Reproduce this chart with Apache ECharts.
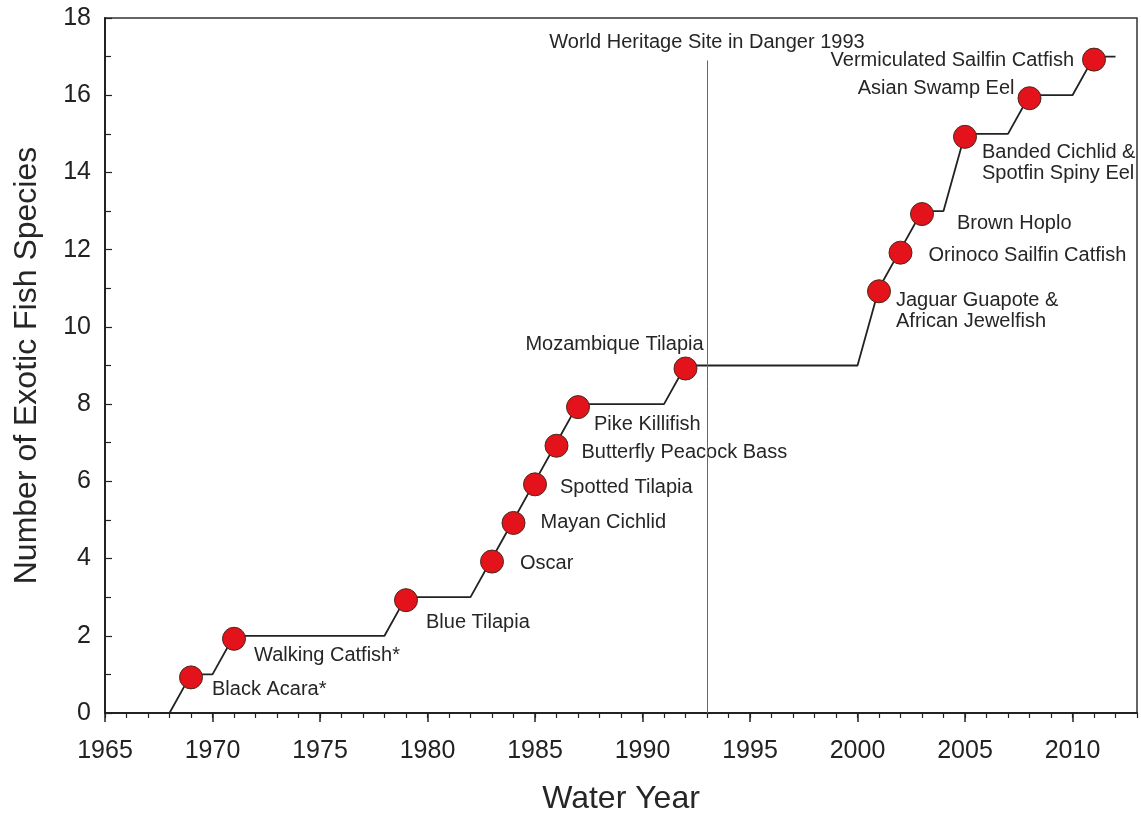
<!DOCTYPE html>
<html>
<head>
<meta charset="utf-8">
<title>Exotic Fish Species by Water Year</title>
<script src="https://cdn.jsdelivr.net/npm/echarts@6/dist/echarts.min.js"></script>
<style>
  html, body { margin: 0; padding: 0; background: #ffffff; }
  #chart { width: 1141px; height: 820px; }
</style>
</head>
<body>
<div id="chart"></div>
<script>
// Species and the water year each was first recorded
const speciesNames = [
  'Black Acara*', 'Walking Catfish*', 'Blue Tilapia', 'Oscar', 'Mayan Cichlid',
  'Spotted Tilapia', 'Butterfly Peacock Bass', 'Pike Killifish', 'Mozambique Tilapia',
  'Jaguar Guapote &\nAfrican Jewelfish', 'Orinoco Sailfin Catfish', 'Brown Hoplo',
  'Banded Cichlid &\nSpotfin Spiny Eel', 'Asian Swamp Eel', 'Vermiculated Sailfin Catfish'
];
const firstYears   = [1969, 1971, 1979, 1983, 1984, 1985, 1986, 1987, 1992, 2001, 2002, 2003, 2005, 2008, 2011];
const speciesCount = [1, 2, 3, 4, 5, 6, 7, 8, 9, 11, 12, 13, 15, 16, 17];

// Cumulative count curve
const stepYears  = [1968, 1969, 1970, 1971, 1978, 1979, 1982, 1983, 1984, 1985, 1986, 1987, 1991, 1992, 2000, 2001, 2002, 2003, 2004, 2005, 2007, 2008, 2010, 2011, 2012];
const stepCounts = [0, 1, 1, 2, 2, 3, 3, 4, 5, 6, 7, 8, 8, 9, 9, 11, 12, 13, 13, 15, 15, 16, 16, 17, 17];

// Axis ticks
const xTickYears = [1965, 1970, 1975, 1980, 1985, 1990, 1995, 2000, 2005, 2010];
const yTickStep = 2;

// Designation marker
const dangerYear = 1993;
const dangerLineTop = 16.9;
const dangerLabel = 'World Heritage Site in Danger 1993';

// Label placement per species: [align, dx, dy] from the marker centre
const labelPlacement = [
  ['left', 21, 12], ['left', 20, 17], ['left', 20, 22], ['left', 28, 2], ['left', 27, 0],
  ['left', 25, 3], ['left', 25, 7], ['left', 16, 17], ['center', -71, -24],
  ['left', 17, 20], ['left', 28, 3], ['left', 35, 9], ['left', 17, 26],
  ['right', -15, -10], ['right', -20, 1]
];

const FONT = "'Liberation Sans', Arial, Helvetica, sans-serif";
const TEXT = '#262626';

const stepData = stepYears.map((y, i) => [y, stepCounts[i]]);
const markerData = firstYears.map((y, i) => {
  const p = labelPlacement[i];
  return {
    name: speciesNames[i],
    value: [y, speciesCount[i]],
    label: { align: p[0], offset: [p[1], p[2]] }
  };
});

const chart = echarts.init(document.getElementById('chart'), null, { renderer: 'canvas' });
chart.setOption({
  backgroundColor: '#ffffff',
  animation: false,
  textStyle: { fontFamily: FONT },
  grid: {
    left: 105, right: 4, top: 18, bottom: 106,
    show: true, borderColor: '#333', borderWidth: 1.5, backgroundColor: 'transparent'
  },
  xAxis: [
    {
      type: 'value', min: 1965, max: 2013,
      name: 'Water Year', nameLocation: 'middle', nameGap: 70,
      nameTextStyle: { fontSize: 32, color: TEXT, fontFamily: FONT },
      axisLine: { show: true, onZero: false, lineStyle: { color: '#222', width: 2 } },
      axisTick: { show: true, length: 9, customValues: xTickYears, lineStyle: { color: '#222', width: 1.5 } },
      axisLabel: {
        show: true, customValues: xTickYears, margin: 26, fontSize: 25, color: '#222', fontFamily: FONT,
        formatter: v => (v % 5 === 0 ? String(v) : '')
      },
      splitLine: { show: false }
    },
    {
      // yearly minor ticks
      type: 'value', min: 1965, max: 2013, interval: 1, position: 'bottom',
      axisLine: { show: false },
      axisTick: { show: true, length: 5, lineStyle: { color: '#222', width: 1.2 } },
      axisLabel: { show: false },
      splitLine: { show: false }
    }
  ],
  yAxis: {
    type: 'value', min: 0, max: 18, interval: yTickStep,
    name: 'Number of Exotic Fish Species', nameLocation: 'middle', nameGap: 62,
    nameTextStyle: { fontSize: 32, color: TEXT, fontFamily: FONT },
    axisLine: { show: true, lineStyle: { color: '#222', width: 2 } },
    axisTick: { show: true, inside: true, length: 7, lineStyle: { color: '#222', width: 1.2 } },
    minorTick: { show: true, splitNumber: 2, length: 6, lineStyle: { color: '#222', width: 1.2 } },
    axisLabel: { margin: 14, fontSize: 25, color: '#222', fontFamily: FONT },
    splitLine: { show: false }
  },
  series: [
    {
      name: 'Cumulative species',
      type: 'line',
      xAxisIndex: 0,
      data: stepData,
      showSymbol: false,
      lineStyle: { color: '#222', width: 1.8 },
      z: 2,
      markLine: {
        silent: true,
        symbol: 'none',
        animation: false,
        lineStyle: { color: '#666', width: 1, type: 'solid' },
        label: {
          show: true, position: 'end', distance: 8, formatter: dangerLabel,
          fontSize: 20, color: TEXT, fontFamily: FONT
        },
        data: [[{ coord: [dangerYear, 0] }, { coord: [dangerYear, dangerLineTop] }]]
      }
    },
    {
      name: 'First record',
      type: 'scatter',
      xAxisIndex: 0,
      data: markerData,
      symbol: 'circle',
      symbolSize: 23,
      symbolOffset: [0, 3],
      itemStyle: { color: '#e3121b', borderColor: '#4a2a1c', borderWidth: 1, opacity: 1 },
      z: 3,
      label: {
        show: true,
        position: 'inside',
        verticalAlign: 'middle',
        formatter: p => p.name,
        fontSize: 20,
        lineHeight: 21,
        color: TEXT,
        fontFamily: FONT
      }
    }
  ]
});
</script>
</body>
</html>
